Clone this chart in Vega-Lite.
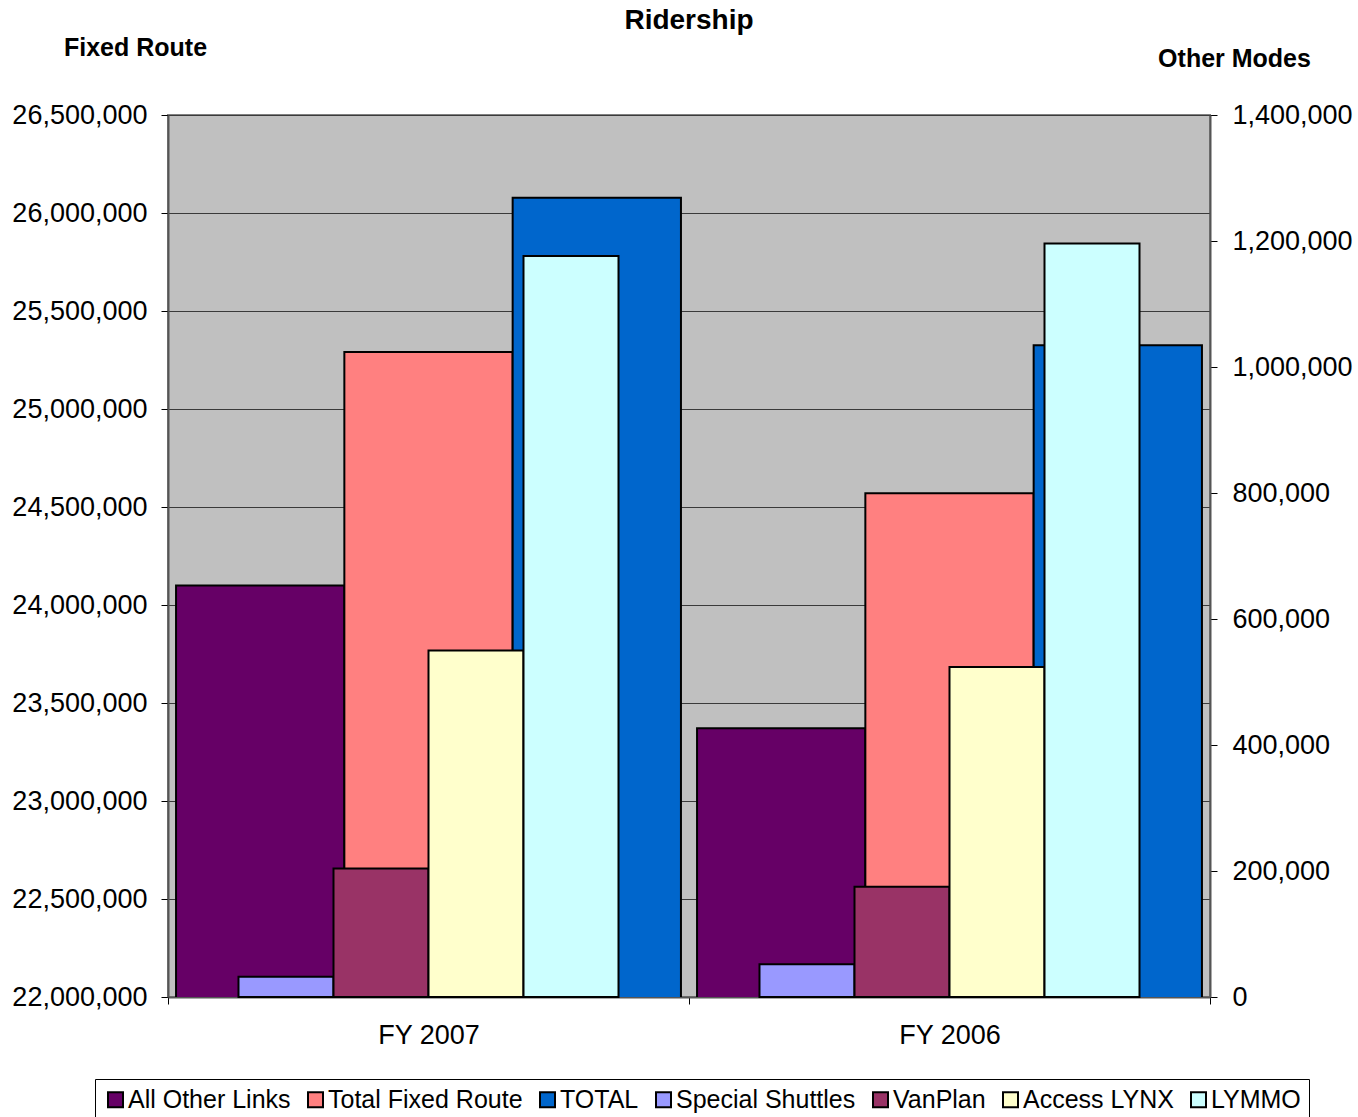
{
  "$schema": "https://vega.github.io/schema/vega-lite/v6.json",
  "autosize": {"type": "none"},
  "padding": {"left": 168, "top": 115, "right": 148, "bottom": 120},
  "width": 1042,
  "height": 882,
  "background": "#ffffff",
  "title": {
    "text": "Ridership",
    "font": "Liberation Sans",
    "fontSize": 28,
    "fontWeight": "bold",
    "color": "#000000",
    "anchor": "middle",
    "offset": 0
  },
  "data": {
    "values": [
      {"year": "FY 2007", "series": "All Other Links", "group": "Fixed Route", "riders": 24100000},
      {"year": "FY 2007", "series": "Total Fixed Route", "group": "Fixed Route", "riders": 25291000},
      {"year": "FY 2007", "series": "TOTAL", "group": "Fixed Route", "riders": 26078000},
      {"year": "FY 2007", "series": "Special Shuttles", "group": "Other Modes", "riders": 32000},
      {"year": "FY 2007", "series": "VanPlan", "group": "Other Modes", "riders": 204000},
      {"year": "FY 2007", "series": "Access LYNX", "group": "Other Modes", "riders": 550000},
      {"year": "FY 2007", "series": "LYMMO", "group": "Other Modes", "riders": 1176000},
      {"year": "FY 2006", "series": "All Other Links", "group": "Fixed Route", "riders": 23371000},
      {"year": "FY 2006", "series": "Total Fixed Route", "group": "Fixed Route", "riders": 24570000},
      {"year": "FY 2006", "series": "TOTAL", "group": "Fixed Route", "riders": 25325000},
      {"year": "FY 2006", "series": "Special Shuttles", "group": "Other Modes", "riders": 52000},
      {"year": "FY 2006", "series": "VanPlan", "group": "Other Modes", "riders": 175000},
      {"year": "FY 2006", "series": "Access LYNX", "group": "Other Modes", "riders": 524000},
      {"year": "FY 2006", "series": "LYMMO", "group": "Other Modes", "riders": 1196000}
    ]
  },
  "layer": [
    {
      "transform": [{"filter": "datum.group === 'Fixed Route'"}],
      "mark": {"type": "bar", "stroke": "#000000", "strokeWidth": 2, "clip": true},
      "encoding": {
        "x": {
          "field": "year",
          "type": "nominal",
          "sort": ["FY 2007", "FY 2006"],
          "scale": {"paddingInner": 0, "paddingOuter": 0},
          "axis": {
            "title": null,
            "labelAngle": 0,
            "labelFontSize": 27,
            "labelPadding": 18,
            "tickBand": "extent",
            "tickSize": 7,
            "tickColor": "#000000",
            "domainColor": "#555555",
            "domainWidth": 2
          }
        },
        "xOffset": {
          "field": "series",
          "type": "nominal",
          "scale": {
            "domain": ["All Other Links", "Total Fixed Route", "TOTAL"],
            "paddingInner": 0,
            "paddingOuter": 0.0478
          }
        },
        "y": {
          "field": "riders",
          "type": "quantitative",
          "scale": {"domain": [22000000, 26500000], "zero": false, "nice": false},
          "axis": {
            "orient": "left",
            "values": [22000000, 22500000, 23000000, 23500000, 24000000, 24500000, 25000000, 25500000, 26000000, 26500000],
            "format": ",d",
            "grid": true,
            "gridColor": "#3a3a3a",
            "gridWidth": 1,
            "tickSize": 7,
            "tickColor": "#000000",
            "labelPadding": 14,
            "labelFontSize": 27,
            "domainColor": "#555555",
            "domainWidth": 2,
            "title": "Fixed Route",
            "titleAngle": 0,
            "titleAlign": "center",
            "titleBaseline": "middle",
            "titleX": -33,
            "titleY": -68
          }
        },
        "color": {
          "field": "series",
          "type": "nominal",
          "scale": {
            "domain": ["All Other Links", "Total Fixed Route", "TOTAL", "Special Shuttles", "VanPlan", "Access LYNX", "LYMMO"],
            "range": ["#660066", "#FF8080", "#0066CC", "#9999FF", "#993366", "#FFFFCC", "#CCFFFF"]
          },
          "legend": {
            "title": null,
            "orient": "none",
            "legendX": -73,
            "legendY": 964,
            "direction": "horizontal",
            "columns": 7,
            "columnPadding": 12,
            "symbolType": "square",
            "symbolSize": 225,
            "symbolStrokeColor": "#000000",
            "symbolStrokeWidth": 2,
            "symbolOpacity": 1,
            "labelFontSize": 25,
            "labelOffset": 0,
            "labelLimit": 400,
            "strokeColor": "#000000",
            "fillColor": "#ffffff",
            "padding": 8
          }
        }
      }
    },
    {
      "transform": [{"filter": "datum.group === 'Other Modes'"}],
      "mark": {"type": "bar", "stroke": "#000000", "strokeWidth": 2},
      "encoding": {
        "x": {"field": "year", "type": "nominal", "sort": ["FY 2007", "FY 2006"]},
        "xOffset": {
          "field": "series",
          "type": "nominal",
          "scale": {
            "domain": ["Special Shuttles", "VanPlan", "Access LYNX", "LYMMO"],
            "paddingInner": 0,
            "paddingOuter": 0.742
          }
        },
        "y": {
          "field": "riders",
          "type": "quantitative",
          "scale": {"domain": [0, 1400000], "nice": false},
          "axis": {
            "orient": "right",
            "values": [0, 200000, 400000, 600000, 800000, 1000000, 1200000, 1400000],
            "format": ",d",
            "grid": false,
            "tickSize": 7,
            "tickColor": "#000000",
            "labelPadding": 15,
            "labelFontSize": 27,
            "domainColor": "#555555",
            "domainWidth": 2,
            "title": "Other Modes",
            "titleAngle": 0,
            "titleAlign": "center",
            "titleBaseline": "middle",
            "titleX": 24,
            "titleY": -57
          }
        },
        "color": {"field": "series", "type": "nominal"}
      }
    }
  ],
  "resolve": {"scale": {"y": "independent", "xOffset": "independent"}},
  "config": {
    "font": "Liberation Sans",
    "view": {"fill": "#C0C0C0", "stroke": "#808080", "strokeWidth": 2},
    "axis": {
      "labelFont": "Liberation Sans",
      "labelColor": "#000000",
      "titleFont": "Liberation Sans",
      "titleFontSize": 25,
      "titleFontWeight": "bold",
      "titleColor": "#000000"
    },
    "legend": {
      "labelFont": "Liberation Sans",
      "labelColor": "#000000"
    }
  }
}
